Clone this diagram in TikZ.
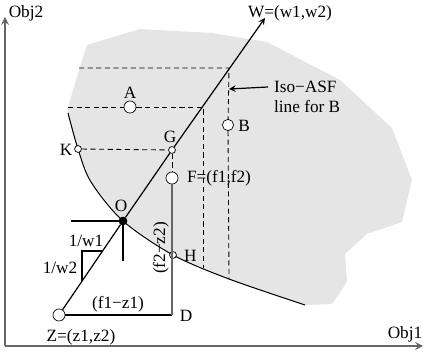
\documentclass[tikz,border=0pt]{standalone}
\usepackage{fontspec}
\setmainfont{Liberation Serif}
\begin{document}
\begin{tikzpicture}[
  x=0.58pt, y=-0.58pt, font=\normalsize,
  pt/.style={circle, draw, fill=white, inner sep=0pt, minimum size=#1},
  line/.style={->, >=stealth, line width=0.7pt},
  axis/.style={->, >=stealth, draw=gray!80!black, line width=1pt},
  plain/.style={line width=0.6pt},
  dashline/.style={dash pattern=on 3pt off 2pt, line width=0.5pt}
]
\useasboundingbox (0,0) rectangle (425,364);
% feasible region
\fill[gray!20] (68,113) -- (68,107) -- (80,67) -- (87,45) -- (140,29) -- (212,33)
  -- (267,42) -- (340,80) -- (392,128) -- (412,180) -- (402,222) -- (367,234)
  -- (345,254) -- (347,282) -- (332,304) -- (305,305) -- (229,279) -- (173,255)
  -- (123,221) -- (91,182) -- (78,149) -- cycle;
\draw[plain] plot[smooth] coordinates {(68,113) (78,149) (91,182) (123,221) (173,255) (229,279) (305,305)};
% axes
\coordinate (org) at (5,346);
\coordinate (ytip) at (5,17);
\coordinate (xtip) at (423,346);
\draw[axis] (org) -- (ytip);
\draw[axis] (org) -- (xtip);
\node (obj2) at (26,13) {Obj2};
\node (obj1) at (405,334) {Obj1};
% points
\node[pt=7pt] (A) at (130,107) {};
\node[pt=6.5pt] (B) at (228,125) {};
\node[pt=4pt] (G) at (172,150) {};
\node[pt=4pt] (K) at (78,149) {};
\node[pt=7pt] (F) at (172,178) {};
\node[pt=4pt] (H) at (173,255) {};
\node[pt=4.6pt, fill=black] (O) at (123,221) {};
\node[pt=7pt] (Z) at (59,315) {};
\coordinate (D) at (172,315);
\coordinate (wtip) at (265,18);
% labels
\node at (130,93) {A};
\node at (244,126) {B};
\node at (170,137) {G};
\node at (66,150) {K};
\node[anchor=west] at (181,178) {F=(f1,f2)};
\node[anchor=west] at (178,256) {H};
\node at (121,206) {O};
\node at (81,337) {Z=(z1,z2)};
\node at (186,316) {D};
\node at (290,13) {W=(w1,w2)};
\node at (118,304) {(f1−z1)};
\node[rotate=90] at (161,248) {(f2−z2)};
\node at (86,241) {1/w1};
\node at (60,268) {1/w2};
% connectors
\draw[line] (Z) -- (O) -- (G) -- (wtip);
\draw[plain] (Z) -- (D);
\draw[line width=1pt, gray!80!black] (D) -- (F);
\draw[dashline] (G) -- (F);
\draw[dashline] (K) -- (G);
\coordinate (a1) at (68,107);
\coordinate (a2) at (203,107);
\coordinate (a3) at (203,268);
\draw[dashline] (a1) -- (A) -- (a2) -- (a3);
\coordinate (b0) at (79,68);
\coordinate (b1) at (229,68);
\coordinate (b2) at (229,279);
\draw[dashline] (b0) -- (b1) -- (B) -- (b2);
% ideal point lines and slope triangle
\coordinate (oh) at (71,221);
\coordinate (ov) at (123,261);
\draw[plain] (oh) -- (O) -- (ov);
\coordinate (t1) at (82,281);
\coordinate (t2) at (82,251);
\coordinate (t3) at (102,251);
\draw[plain] (t1) -- (t2) -- (t3);
% iso-ASF note
\node[anchor=west] (iso1) at (268,87) {Iso−ASF};
\node[anchor=west] (iso2) at (268,107) {line for B};
\coordinate (isoP) at (229,89);
\draw[line] (iso1.west) -- (isoP);
\end{tikzpicture}
\end{document}
